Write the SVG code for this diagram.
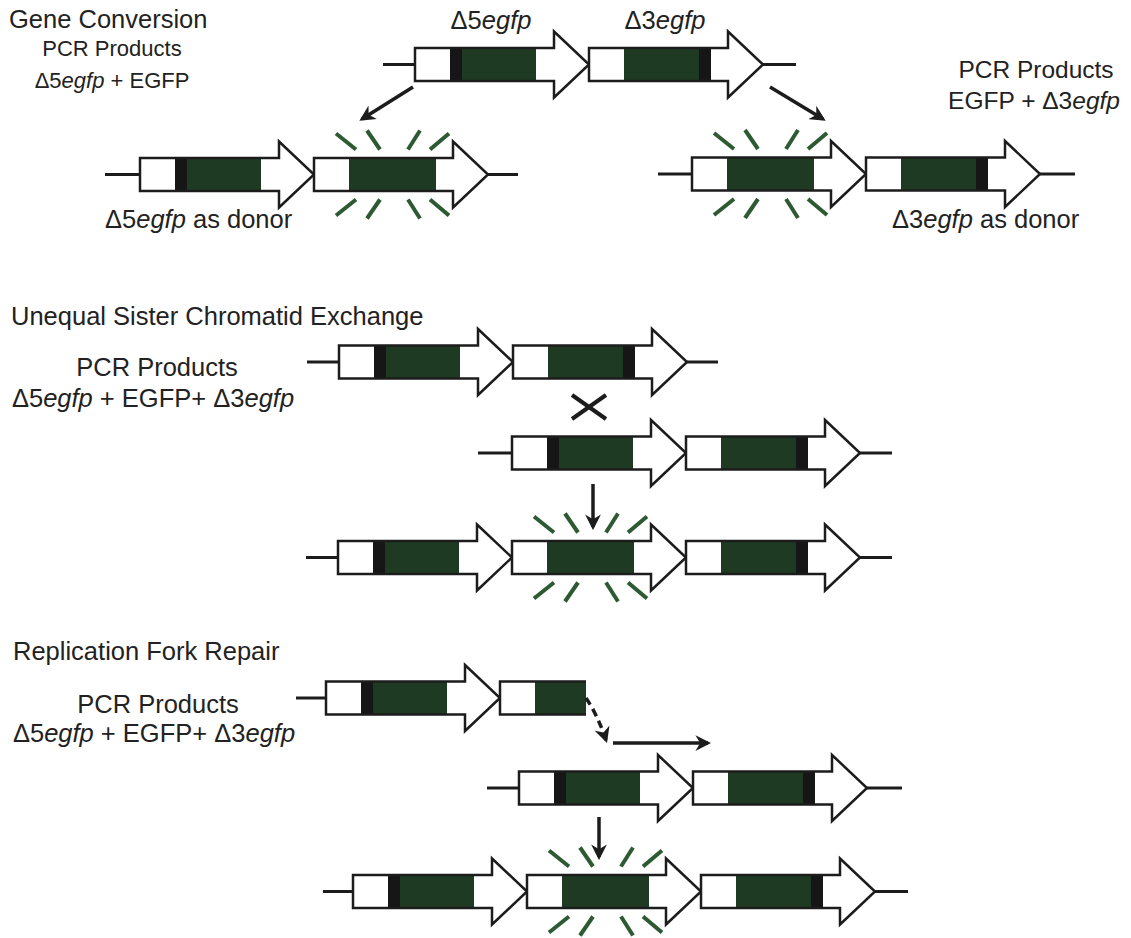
<svg xmlns="http://www.w3.org/2000/svg" xmlns:xlink="http://www.w3.org/1999/xlink" width="1131" height="938" viewBox="0 0 1131 938">
<style>
  text { font-family: "Liberation Sans", Arial, sans-serif; fill: #222; font-size: 25.5px; }
  .sm { font-size: 22px; }
  .md { font-size: 24.5px; }
  .it { font-style: italic; }
  .ofill { fill: #fff; stroke: none; }
  .ostroke { fill: none; stroke: #1c1c1c; stroke-width: 2.5; stroke-linejoin: miter; }
  .grn { fill: #1e3a22; }
  .blk { fill: #161616; }
  .dna { stroke: #1c1c1c; stroke-width: 3; fill: none; }
  .glow line { stroke: #2d5a32; stroke-width: 4; }
  .arr { stroke: #1c1c1c; stroke-width: 3.5; fill: none; }
</style>
<defs>
  <path id="shape" d="M0,-16.5 H139 V-33 L174,0 L139,33 V16.5 H0 Z"/>
  <g id="d5">
    <use xlink:href="#shape" class="ofill"/>
    <rect class="blk" x="35" y="-16.5" width="12" height="33"/>
    <rect class="grn" x="47" y="-16.5" width="74" height="33"/>
    <use xlink:href="#shape" class="ostroke"/>
  </g>
  <g id="d3">
    <use xlink:href="#shape" class="ofill"/>
    <rect class="grn" x="35" y="-16.5" width="75" height="33"/>
    <rect class="blk" x="110" y="-16.5" width="12" height="33"/>
    <use xlink:href="#shape" class="ostroke"/>
  </g>
  <g id="eg">
    <use xlink:href="#shape" class="ofill"/>
    <rect class="grn" x="35" y="-16.5" width="87" height="33"/>
    <use xlink:href="#shape" class="ostroke"/>
  </g>
  <g id="glow" class="glow">
    <line x1="-56" y1="-41" x2="-36" y2="-25"/>
    <line x1="-25" y1="-44" x2="-12" y2="-25"/>
    <line x1="16" y1="-25" x2="28" y2="-44"/>
    <line x1="38" y1="-25" x2="57" y2="-41"/>
    <line x1="-56" y1="41" x2="-36" y2="25"/>
    <line x1="-25" y1="44" x2="-12" y2="25"/>
    <line x1="16" y1="25" x2="28" y2="44"/>
    <line x1="38" y1="25" x2="57" y2="41"/>
  </g>
  <marker id="ah" viewBox="0 0 10 10" refX="8" refY="5" markerWidth="4.5" markerHeight="4.5" orient="auto" markerUnits="strokeWidth">
    <path d="M0,0 L10,5 L0,10 L3,5 Z" fill="#1c1c1c"/>
  </marker>
</defs>

<!-- Labels -->
<g id="labels">
  <text x="9" y="28">Gene Conversion</text>
  <text class="sm" x="112" y="56" text-anchor="middle">PCR Products</text>
  <text class="sm" x="112" y="88" text-anchor="middle">Δ5<tspan class="it">egfp</tspan> + EGFP</text>
  <text class="md" x="1036" y="78" text-anchor="middle">PCR Products</text>
  <text class="md" x="1034" y="109" text-anchor="middle">EGFP + Δ3<tspan class="it">egfp</tspan></text>
  <text x="491" y="29" text-anchor="middle">Δ5<tspan class="it">egfp</tspan></text>
  <text x="665" y="29" text-anchor="middle">Δ3<tspan class="it">egfp</tspan></text>
  <text x="105" y="228">Δ5<tspan class="it">egfp</tspan> as donor</text>
  <text x="892" y="228">Δ3<tspan class="it">egfp</tspan> as donor</text>
  <text x="11" y="325">Unequal Sister Chromatid Exchange</text>
  <text x="157" y="376" text-anchor="middle">PCR Products</text>
  <text x="153" y="407" text-anchor="middle">Δ5<tspan class="it">egfp</tspan> + EGFP+ Δ3<tspan class="it">egfp</tspan></text>
  <text x="13" y="660">Replication Fork Repair</text>
  <text x="158" y="713" text-anchor="middle">PCR Products</text>
  <text x="154" y="742" text-anchor="middle">Δ5<tspan class="it">egfp</tspan> + EGFP+ Δ3<tspan class="it">egfp</tspan></text>
</g>

<!-- Gene conversion -->
<g id="gc-top">
  <line class="dna" x1="383" y1="64.5" x2="415" y2="64.5"/>
  <use xlink:href="#d5" transform="translate(415,64.5)"/>
  <use xlink:href="#d3" transform="translate(589,64.5)"/>
  <line class="dna" x1="763" y1="64.5" x2="796" y2="64.5"/>
</g>
<g id="gc-left">
  <line class="dna" x1="105" y1="174.5" x2="140" y2="174.5"/>
  <use xlink:href="#d5" transform="translate(140,174.5)"/>
  <use xlink:href="#eg" transform="translate(314,174.5)"/>
  <line class="dna" x1="488" y1="174.5" x2="518" y2="174.5"/>
  <use xlink:href="#glow" transform="translate(392,174.5)"/>
</g>
<g id="gc-right">
  <line class="dna" x1="658" y1="174" x2="692" y2="174"/>
  <use xlink:href="#eg" transform="translate(692,174)"/>
  <use xlink:href="#d3" transform="translate(866,174)"/>
  <line class="dna" x1="1040" y1="174" x2="1075" y2="174"/>
  <use xlink:href="#glow" transform="translate(770,174)"/>
</g>

<!-- USCE -->
<g id="usce-1">
  <line class="dna" x1="307" y1="362" x2="339" y2="362"/>
  <use xlink:href="#d5" transform="translate(339,362)"/>
  <use xlink:href="#d3" transform="translate(513,362)"/>
  <line class="dna" x1="687" y1="362" x2="718" y2="362"/>
</g>
<g id="usce-2">
  <line class="dna" x1="478" y1="453" x2="512" y2="453"/>
  <use xlink:href="#d5" transform="translate(512,453)"/>
  <use xlink:href="#d3" transform="translate(686,453)"/>
  <line class="dna" x1="860" y1="453" x2="892" y2="453"/>
</g>
<g id="usce-3">
  <line class="dna" x1="306" y1="557.5" x2="338" y2="557.5"/>
  <use xlink:href="#d5" transform="translate(338,557.5)"/>
  <use xlink:href="#eg" transform="translate(512,557.5)"/>
  <use xlink:href="#d3" transform="translate(686,557.5)"/>
  <line class="dna" x1="860" y1="557.5" x2="892" y2="557.5"/>
  <use xlink:href="#glow" transform="translate(590,557.5)"/>
</g>

<!-- RFR -->
<g id="rfr-1">
  <line class="dna" x1="296" y1="698" x2="327" y2="698"/>
  <use xlink:href="#d5" transform="translate(326,698)"/>
  <rect class="ofill" x="500" y="681.5" width="35" height="33"/>
  <rect class="grn" x="535" y="681.5" width="51" height="33"/>
  <path class="ostroke" d="M586,681.5 H500 V714.5 H586"/>
</g>
<g id="rfr-2">
  <line class="dna" x1="487" y1="788" x2="519" y2="788"/>
  <use xlink:href="#d5" transform="translate(519,788)"/>
  <use xlink:href="#d3" transform="translate(693,788)"/>
  <line class="dna" x1="867" y1="788" x2="902" y2="788"/>
</g>
<g id="rfr-3">
  <line class="dna" x1="323" y1="891.5" x2="354" y2="891.5"/>
  <use xlink:href="#d5" transform="translate(353,891.5)"/>
  <use xlink:href="#eg" transform="translate(527,891.5)"/>
  <use xlink:href="#d3" transform="translate(701,891.5)"/>
  <line class="dna" x1="875" y1="891.5" x2="908" y2="891.5"/>
  <use xlink:href="#glow" transform="translate(605,891.5)"/>
</g>

<!-- Connectors -->
<g id="connectors">
  <line class="arr" x1="413" y1="87" x2="362" y2="119" marker-end="url(#ah)"/>
  <line class="arr" x1="770" y1="87" x2="823" y2="119" marker-end="url(#ah)"/>
  <g id="cross" class="arr" style="stroke-width:4">
    <line x1="572" y1="395" x2="606" y2="419"/>
    <line x1="572" y1="419" x2="606" y2="395"/>
  </g>
  <line class="arr" x1="593" y1="484" x2="593" y2="527" marker-end="url(#ah)"/>
  <path class="arr" d="M586,698 Q598,716 606,740" stroke-dasharray="8,5" marker-end="url(#ah)"/>
  <line class="arr" x1="613" y1="743" x2="708" y2="743" marker-end="url(#ah)"/>
  <line class="arr" x1="599" y1="817" x2="599" y2="857" marker-end="url(#ah)"/>
</g>
</svg>
